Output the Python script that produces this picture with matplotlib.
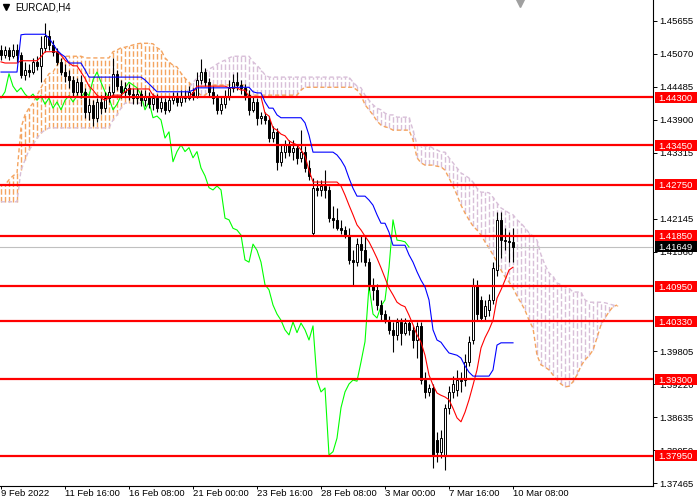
import matplotlib.pyplot as plt
import matplotlib.transforms as mtransforms
from matplotlib.patches import Rectangle

plt.rcParams["font.family"] = ["Liberation Sans", "DejaVu Sans"]

# ==================================================
# DATA
# ==================================================

symbol = "EURCAD,H4"

date_labels = [
    "9 Feb 2022", "11 Feb 16:00", "16 Feb 08:00", "21 Feb 00:00",
    "23 Feb 16:00", "28 Feb 08:00", "3 Mar 00:00", "7 Mar 16:00",
    "10 Mar 08:00",
]

opens = [
    1.4514, 1.4505, 1.4514, 1.4503, 1.4514, 1.4505, 1.4470, 1.4479, 1.4475, 1.4493,
    1.4486, 1.4518, 1.4539, 1.4523, 1.4510, 1.4493, 1.4475, 1.4468, 1.4461, 1.4440,
    1.4457, 1.4440, 1.4404, 1.4417, 1.4394, 1.4422, 1.4411, 1.4429, 1.4440, 1.4472,
    1.4450, 1.4440, 1.4447, 1.4436, 1.4429, 1.4436, 1.4425, 1.4433, 1.4418, 1.4429,
    1.4411, 1.4422, 1.4408, 1.4425, 1.4433, 1.4422, 1.4433, 1.4429, 1.4440, 1.4433,
    1.4461, 1.4475, 1.4457, 1.4440, 1.4429, 1.4408, 1.4418, 1.4433, 1.4447, 1.4457,
    1.4452, 1.4447, 1.4435, 1.4408, 1.4422, 1.4394, 1.4397, 1.4390, 1.4358, 1.4369,
    1.4316, 1.4334, 1.4346, 1.4334, 1.4341, 1.4323, 1.4334, 1.4305, 1.4190, 1.4270,
    1.4266, 1.4273, 1.4266, 1.4216, 1.4213, 1.4198, 1.4195, 1.4186, 1.4142, 1.4138,
    1.4170, 1.4159, 1.4138, 1.4098, 1.4089, 1.4062, 1.4046, 1.4035, 1.4018, 1.4009,
    1.4032, 1.4013, 1.4030, 1.4018, 1.4000, 1.4025, 1.3929, 1.3908, 1.3915, 1.3823,
    1.3802, 1.3796, 1.3880, 1.3908, 1.3911, 1.3929, 1.3929, 1.3961, 1.4000, 1.4096,
    1.4071, 1.4043, 1.4053, 1.4071, 1.4124, 1.4213, 1.4177, 1.4176, 1.4174,
]

highs = [
    1.4523, 1.4521, 1.4519, 1.4525, 1.4525, 1.4510, 1.4493, 1.4489, 1.4500, 1.4503,
    1.4539, 1.4562, 1.4550, 1.4532, 1.4518, 1.4500, 1.4489, 1.4479, 1.4468, 1.4464,
    1.4470, 1.4447, 1.4429, 1.4425, 1.4429, 1.4435, 1.4440, 1.4450, 1.4500, 1.4479,
    1.4461, 1.4457, 1.4454, 1.4447, 1.4447, 1.4443, 1.4443, 1.4440, 1.4436, 1.4436,
    1.4433, 1.4429, 1.4433, 1.4440, 1.4440, 1.4443, 1.4443, 1.4450, 1.4447, 1.4475,
    1.4498, 1.4482, 1.4464, 1.4450, 1.4436, 1.4433, 1.4443, 1.4461, 1.4472, 1.4475,
    1.4461, 1.4454, 1.4443, 1.4433, 1.4429, 1.4404, 1.4404, 1.4397, 1.4380, 1.4376,
    1.4348, 1.4355, 1.4355, 1.4355, 1.4348, 1.4372, 1.4344, 1.4319, 1.4287, 1.4284,
    1.4284, 1.4301, 1.4273, 1.4238, 1.4234, 1.4213, 1.4202, 1.4198, 1.4159, 1.4181,
    1.4184, 1.4184, 1.4145, 1.4110, 1.4099, 1.4071, 1.4053, 1.4043, 1.4032, 1.4039,
    1.4039, 1.4039, 1.4035, 1.4025, 1.4032, 1.4032, 1.3943, 1.3922, 1.3922, 1.3837,
    1.3840, 1.3887, 1.3919, 1.3936, 1.3947, 1.3943, 1.3975, 1.4007, 1.4110, 1.4106,
    1.4078, 1.4071, 1.4082, 1.4138, 1.4227, 1.4227, 1.4198, 1.4191, 1.4198,
]

lows = [
    1.4496, 1.4500, 1.4496, 1.4500, 1.4493, 1.4464, 1.4461, 1.4466, 1.4472, 1.4479,
    1.4457, 1.4510, 1.4514, 1.4503, 1.4488, 1.4470, 1.4457, 1.4447, 1.4433, 1.4435,
    1.4429, 1.4394, 1.4390, 1.4380, 1.4387, 1.4401, 1.4404, 1.4422, 1.4435, 1.4443,
    1.4429, 1.4433, 1.4425, 1.4418, 1.4418, 1.4415, 1.4415, 1.4411, 1.4408, 1.4404,
    1.4404, 1.4401, 1.4404, 1.4418, 1.4415, 1.4415, 1.4422, 1.4425, 1.4425, 1.4429,
    1.4454, 1.4450, 1.4433, 1.4418, 1.4401, 1.4401, 1.4411, 1.4425, 1.4440, 1.4443,
    1.4436, 1.4425, 1.4399, 1.4404, 1.4381, 1.4383, 1.4383, 1.4351, 1.4351, 1.4301,
    1.4309, 1.4323, 1.4327, 1.4319, 1.4312, 1.4316, 1.4298, 1.4284, 1.4184, 1.4255,
    1.4255, 1.4252, 1.4209, 1.4198, 1.4195, 1.4188, 1.4181, 1.4135, 1.4096, 1.4131,
    1.4138, 1.4131, 1.4089, 1.4071, 1.4053, 1.4035, 1.4030, 1.4011, 1.3979, 1.4000,
    1.3991, 1.4009, 1.4009, 1.3986, 1.3968, 1.3922, 1.3897, 1.3901, 1.3773, 1.3784,
    1.3791, 1.3770, 1.3869, 1.3897, 1.3901, 1.3908, 1.3919, 1.3954, 1.3993, 1.4035,
    1.4035, 1.4035, 1.4043, 1.4064, 1.4114, 1.4145, 1.4159, 1.4138, 1.4138,
]

closes = [
    1.4505, 1.4514, 1.4503, 1.4514, 1.4505, 1.4470, 1.4479, 1.4475, 1.4493, 1.4486,
    1.4518, 1.4539, 1.4523, 1.4510, 1.4493, 1.4475, 1.4468, 1.4461, 1.4440, 1.4457,
    1.4440, 1.4404, 1.4417, 1.4394, 1.4422, 1.4411, 1.4429, 1.4440, 1.4472, 1.4450,
    1.4440, 1.4447, 1.4436, 1.4429, 1.4436, 1.4425, 1.4433, 1.4418, 1.4429, 1.4411,
    1.4422, 1.4408, 1.4425, 1.4433, 1.4422, 1.4433, 1.4429, 1.4440, 1.4433, 1.4461,
    1.4475, 1.4457, 1.4440, 1.4429, 1.4408, 1.4418, 1.4433, 1.4447, 1.4457, 1.4452,
    1.4447, 1.4435, 1.4408, 1.4422, 1.4394, 1.4397, 1.4390, 1.4358, 1.4369, 1.4316,
    1.4334, 1.4346, 1.4334, 1.4341, 1.4323, 1.4334, 1.4305, 1.4291, 1.4270, 1.4266,
    1.4273, 1.4266, 1.4216, 1.4213, 1.4198, 1.4195, 1.4186, 1.4142, 1.4138, 1.4170,
    1.4159, 1.4138, 1.4098, 1.4089, 1.4062, 1.4046, 1.4035, 1.4018, 1.4009, 1.4032,
    1.4013, 1.4030, 1.4018, 1.4000, 1.4025, 1.3929, 1.3908, 1.3915, 1.3796, 1.3802,
    1.3826, 1.3880, 1.3908, 1.3922, 1.3929, 1.3927, 1.3961, 1.3997, 1.4096, 1.4046,
    1.4039, 1.4060, 1.4071, 1.4128, 1.4213, 1.4177, 1.4176, 1.4174, 1.41649,
]

tenkan = [
    1.4493, 1.4491, 1.4491, 1.4491, 1.4491, 1.4495, 1.4495, 1.4495, 1.4495, 1.4495,
    1.4502, 1.4511, 1.4511, 1.4511, 1.4511, 1.4505, 1.4496, 1.4491, 1.4486, 1.4486,
    1.4475, 1.4464, 1.4450, 1.4443, 1.4434, 1.4429, 1.4425, 1.4429, 1.4434, 1.4434,
    1.4434, 1.4440, 1.4445, 1.4445, 1.4445, 1.4445, 1.4445, 1.4445, 1.4434, 1.4431,
    1.4431, 1.4431, 1.4431, 1.4431, 1.4431, 1.4431, 1.4431, 1.4431, 1.4438, 1.4450,
    1.4450, 1.4450, 1.4450, 1.4450, 1.4450, 1.4450, 1.4450, 1.4447, 1.4447, 1.4447,
    1.4443, 1.4443, 1.4431, 1.4431, 1.4431, 1.4431, 1.4402, 1.4397, 1.4376, 1.4372,
    1.4365, 1.4362, 1.4353, 1.4349, 1.4346, 1.4337, 1.4326, 1.4301, 1.4280, 1.4280,
    1.4280, 1.4280, 1.4280, 1.4280, 1.4280, 1.4273, 1.4257, 1.4239, 1.4222, 1.4204,
    1.4195, 1.4184, 1.4174, 1.4160, 1.4145, 1.4128, 1.4110, 1.4092, 1.4080, 1.4067,
    1.4062, 1.4059, 1.4044, 1.4027, 1.4009, 1.3996, 1.3973, 1.3938, 1.3920, 1.3906,
    1.3902, 1.3899, 1.3894, 1.3879, 1.3862, 1.3855, 1.3872, 1.3894, 1.3920, 1.3947,
    1.3986, 1.4004, 1.4018, 1.4035, 1.4074, 1.4089, 1.4106, 1.4124, 1.4129,
]

kijun = [
    1.4475, 1.4475, 1.4475, 1.4475, 1.4475, 1.4541, 1.4542, 1.4542, 1.4542, 1.4542,
    1.4542, 1.4542, 1.4535, 1.4525, 1.4514, 1.4507, 1.4502, 1.4491, 1.4491, 1.4491,
    1.4491, 1.4479, 1.4466, 1.4466, 1.4466, 1.4466, 1.4466, 1.4466, 1.4466, 1.4466,
    1.4466, 1.4466, 1.4466, 1.4466, 1.4466, 1.4466, 1.4461, 1.4454, 1.4447, 1.4440,
    1.4440, 1.4440, 1.4440, 1.4440, 1.4440, 1.4440, 1.4440, 1.4440, 1.4443, 1.4447,
    1.4447, 1.4447, 1.4447, 1.4447, 1.4447, 1.4447, 1.4447, 1.4447, 1.4448, 1.4448,
    1.4448, 1.4448, 1.4448, 1.4440, 1.4438, 1.4438, 1.4422, 1.4411, 1.4411, 1.4399,
    1.4394, 1.4394, 1.4394, 1.4394, 1.4394, 1.4394, 1.4385, 1.4363, 1.4333, 1.4333,
    1.4333, 1.4333, 1.4333, 1.4333, 1.4328, 1.4319, 1.4307, 1.4287, 1.4269, 1.4255,
    1.4255, 1.4255, 1.4248, 1.4239, 1.4222, 1.4207, 1.4207, 1.4191, 1.4168, 1.4168,
    1.4168, 1.4168, 1.4151, 1.4138, 1.4121, 1.4106, 1.4094, 1.4071, 1.4018, 1.4000,
    1.3996, 1.3986, 1.3977, 1.3975, 1.3973, 1.3968, 1.3954, 1.3943, 1.3936, 1.3936,
    1.3936, 1.3936, 1.3936, 1.3947, 1.3991, 1.3995, 1.3995, 1.3995, 1.3995,
]

span_a = [
    1.4275, 1.4275, 1.4284, 1.4291, 1.4296, 1.4376, 1.4399, 1.4411, 1.4420, 1.4434,
    1.4447, 1.4461, 1.4472, 1.4475, 1.4487, 1.4496, 1.4503, 1.4503, 1.4503, 1.4503,
    1.4503, 1.4500, 1.4500, 1.4500, 1.4500, 1.4500, 1.4500, 1.4500, 1.4511, 1.4514,
    1.4518, 1.4519, 1.4521, 1.4523, 1.4525, 1.4526, 1.4526, 1.4526, 1.4525, 1.4518,
    1.4514, 1.4500, 1.4493, 1.4487, 1.4484, 1.4473, 1.4464, 1.4457, 1.4447, 1.4440,
    1.4434, 1.4434, 1.4440, 1.4452, 1.4452, 1.4452, 1.4452, 1.4452, 1.4452, 1.4452,
    1.4452, 1.4452, 1.4434, 1.4434, 1.4434, 1.4434, 1.4434, 1.4434, 1.4434, 1.4434,
    1.4434, 1.4434, 1.4434, 1.4434, 1.4434, 1.4443, 1.4448, 1.4448, 1.4448, 1.4448,
    1.4448, 1.4448, 1.4448, 1.4448, 1.4448, 1.4448, 1.4448, 1.4448, 1.4448, 1.4443,
    1.4434, 1.4417, 1.4408, 1.4399, 1.4388, 1.4381, 1.4378, 1.4376, 1.4372, 1.4372,
    1.4372, 1.4372, 1.4372, 1.4355, 1.4323, 1.4314, 1.4310, 1.4310, 1.4310, 1.4308,
    1.4307, 1.4301, 1.4287, 1.4273, 1.4257, 1.4239, 1.4225, 1.4213, 1.4202, 1.4195,
    1.4186, 1.4174, 1.4163, 1.4151, 1.4138, 1.4124, 1.4112, 1.4103, 1.4092, 1.4078,
    1.4066, 1.4053, 1.4035, 1.4021, 1.3973, 1.3956, 1.3952, 1.3947, 1.3938, 1.3929,
    1.3922, 1.3917, 1.3918, 1.3926, 1.3938, 1.3954, 1.3965, 1.3972, 1.3982, 1.4004,
    1.4027, 1.4039, 1.4050, 1.4059, 1.4062,
]

span_b = [
    1.4245, 1.4245, 1.4245, 1.4245, 1.4245, 1.4301, 1.4319, 1.4337, 1.4346, 1.4358,
    1.4367, 1.4372, 1.4376, 1.4376, 1.4376, 1.4376, 1.4376, 1.4376, 1.4376, 1.4376,
    1.4376, 1.4376, 1.4376, 1.4376, 1.4376, 1.4376, 1.4376, 1.4376, 1.4390, 1.4399,
    1.4411, 1.4420, 1.4420, 1.4420, 1.4420, 1.4420, 1.4429, 1.4429, 1.4429, 1.4429,
    1.4429, 1.4429, 1.4429, 1.4429, 1.4429, 1.4429, 1.4429, 1.4447, 1.4457, 1.4464,
    1.4470, 1.4475, 1.4480, 1.4484, 1.4489, 1.4493, 1.4496, 1.4500, 1.4503, 1.4503,
    1.4503, 1.4503, 1.4503, 1.4493, 1.4487, 1.4479, 1.4470, 1.4466, 1.4466, 1.4466,
    1.4466, 1.4466, 1.4466, 1.4466, 1.4466, 1.4466, 1.4466, 1.4466, 1.4466, 1.4466,
    1.4466, 1.4466, 1.4466, 1.4466, 1.4466, 1.4466, 1.4466, 1.4466, 1.4457, 1.4450,
    1.4447, 1.4434, 1.4425, 1.4417, 1.4411, 1.4408, 1.4402, 1.4399, 1.4399, 1.4395,
    1.4395, 1.4395, 1.4395, 1.4372, 1.4346, 1.4344, 1.4344, 1.4344, 1.4340, 1.4337,
    1.4333, 1.4333, 1.4323, 1.4314, 1.4305, 1.4296, 1.4292, 1.4287, 1.4280, 1.4269,
    1.4262, 1.4262, 1.4261, 1.4253, 1.4243, 1.4234, 1.4230, 1.4225, 1.4222, 1.4213,
    1.4207, 1.4199, 1.4190, 1.4184, 1.4177, 1.4151, 1.4133, 1.4119, 1.4113, 1.4101,
    1.4098, 1.4094, 1.4092, 1.4085, 1.4085, 1.4085, 1.4071, 1.4067, 1.4067, 1.4067,
    1.4067, 1.4066, 1.4064, 1.4062, 1.4060,
]

level_prices = [
    1.44300, 1.43450, 1.42750, 1.41850,
    1.40950, 1.40330, 1.39300, 1.37950,
]

# scale values that stay visible next to the price tags
axis_prices = [
    1.45655, 1.45070, 1.44485, 1.43900, 1.43315, 1.42145, 1.41560,
    1.39805, 1.39220, 1.38635, 1.38050, 1.37465,
]

last_price = 1.41649

CHIKOU_SHIFT = 26
BARS_PER_LABEL = 16

# ==================================================
# FIGURE
# ==================================================

fig = plt.figure(figsize=(7, 5), dpi=100)

ax = fig.add_axes([0, 14 / 500, 653 / 700, 486 / 500])

Y_TOP = 1.46027
Y_BOTTOM = 1.37412

ax.set_xlim(-0.25, 163)
ax.set_ylim(Y_BOTTOM, Y_TOP)

bars = list(range(len(closes)))
cloud_bars = list(range(len(span_a)))

# ==================================================
# KUMO
# ==================================================

COLOR_A = "#F4A460"
COLOR_B = "#D8BFD8"
DASH = (0, (4, 1.6))

cloud_colors = [
    COLOR_A if a >= b else COLOR_B
    for a, b in zip(span_a, span_b)
]

ax.vlines(
    cloud_bars,
    [min(a, b) for a, b in zip(span_a, span_b)],
    [max(a, b) for a, b in zip(span_a, span_b)],
    colors=cloud_colors,
    linestyles=DASH,
    linewidth=1.0,
    zorder=1
)

ax.plot(
    cloud_bars, span_a,
    color=COLOR_A, linestyle=(0, (3, 2)), linewidth=1.0, zorder=1.2
)

ax.plot(
    cloud_bars, span_b,
    color=COLOR_B, linestyle=(0, (3, 2)), linewidth=1.0, zorder=1.2
)

# ==================================================
# BID LINE / CHIKOU
# ==================================================

ax.axhline(last_price, color="#C0C0C0", linewidth=0.8, zorder=1.3)

ax.plot(
    bars[:len(closes) - CHIKOU_SHIFT],
    closes[CHIKOU_SHIFT:],
    color="#00FF00",
    linewidth=0.8,
    zorder=2
)

# ==================================================
# CANDLES
# ==================================================

ax.vlines(bars, lows, highs, colors="black", linewidth=0.8, zorder=3)

body_bottom = [min(o, c) for o, c in zip(opens, closes)]
body_height = [max(abs(c - o), 0.00004) for o, c in zip(opens, closes)]
body_color = ["white" if c >= o else "black" for o, c in zip(opens, closes)]

ax.bar(
    bars,
    body_height,
    bottom=body_bottom,
    width=0.6,
    color=body_color,
    edgecolor="black",
    linewidth=0.7,
    zorder=3.1
)

# ==================================================
# TENKAN / KIJUN
# ==================================================

ax.plot(bars, tenkan, color="#FF0000", linewidth=0.8, zorder=4)
ax.plot(bars, kijun, color="#0000FF", linewidth=0.8, zorder=4)

# ==================================================
# LEVELS
# ==================================================

for lvl in level_prices:
    ax.axhline(lvl, color="#FF0000", linewidth=1.6, zorder=3.5)

# ==================================================
# AXES
# ==================================================

for side in ["top", "left"]:
    ax.spines[side].set_visible(False)

for side in ["right", "bottom"]:
    ax.spines[side].set_linewidth(0.8)
    ax.spines[side].set_color("black")

ax.yaxis.tick_right()
ax.set_yticks(axis_prices)
ax.set_yticklabels([f"{p:.5f}" for p in axis_prices])

ax.tick_params(
    axis="y", direction="out", length=3, width=0.7,
    pad=1.5, labelsize=6.8, colors="black"
)

ax.set_xticks(list(range(0, len(closes), BARS_PER_LABEL)))
ax.set_xticklabels(date_labels)

for lbl in ax.get_xticklabels():
    lbl.set_horizontalalignment("left")

ax.tick_params(
    axis="x", direction="out", length=2, width=0.7,
    pad=0.5, labelsize=6.8, colors="black"
)

# price labels on the scale
trans = mtransforms.blended_transform_factory(ax.transAxes, ax.transData)
box_w = 42 / 653
box_h = 11 * (Y_TOP - Y_BOTTOM) / 486

tags = [(p, "#FF0000") for p in level_prices] + [(last_price, "black")]

for price, col in tags:
    ax.add_patch(
        Rectangle(
            (1 + 1.5 / 653, price - box_h / 2),
            box_w, box_h,
            transform=trans, facecolor=col, edgecolor="none",
            clip_on=False, zorder=6
        )
    )
    ax.text(
        1 + 1.5 / 653 + box_w / 2, price,
        f"{price:.5f}",
        transform=trans, ha="center", va="center_baseline",
        color="white", fontsize=6.8, zorder=7, clip_on=False
    )

# symbol title and shift marker
ax.plot(
    [6 / 653], [1 - 7 / 486], marker="v", markersize=4,
    color="black", transform=ax.transAxes, clip_on=False
)

ax.text(
    15 / 653, 1 - 8 / 486, symbol,
    transform=ax.transAxes, ha="left", va="center",
    fontsize=6.9, color="black"
)

ax.plot(
    [520 / 653], [1 - 1 / 486], marker="v", markersize=8,
    color="#A0A0A0", transform=ax.transAxes
)

plt.savefig("out.png", dpi=100)

plt.close()
